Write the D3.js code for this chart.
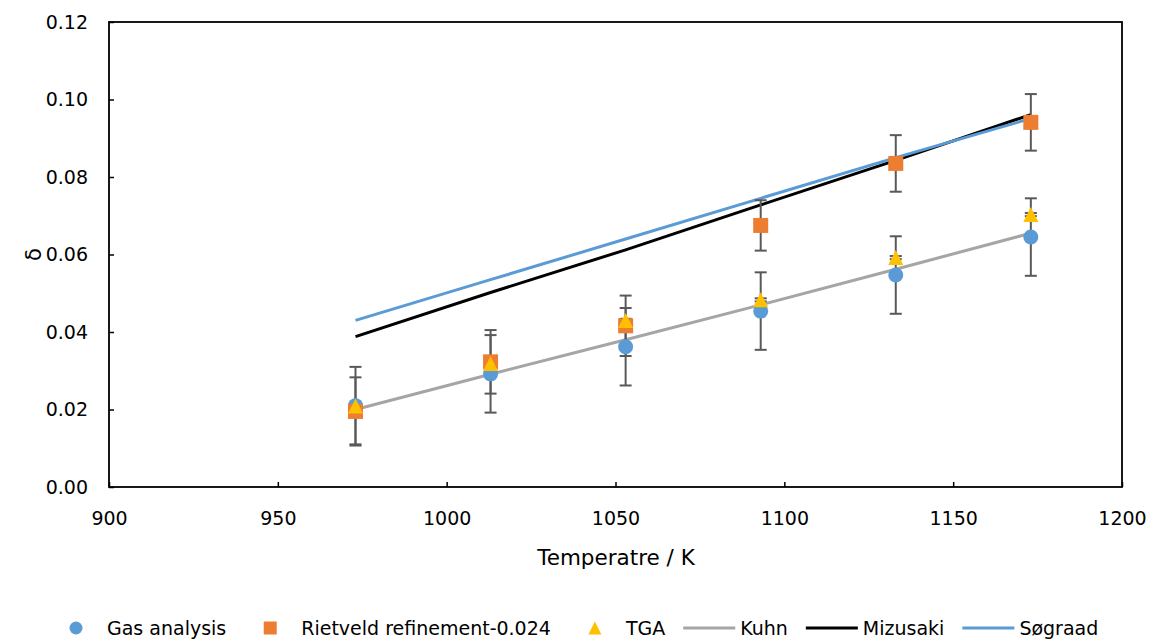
<!DOCTYPE html>
<html>
<head>
<meta charset="utf-8">
<script src="https://cdn.jsdelivr.net/npm/d3@7"></script>
<style>
  html, body { margin: 0; padding: 0; background: #fff; }
  svg text { font-family: "DejaVu Sans", "Open Sans", sans-serif; fill: #000; }
</style>
</head>
<body>
<svg id="chart" width="1149" height="640"></svg>
<script>
// Temperatures (K) shared by all series
const temps = [973, 1013, 1053, 1093, 1133, 1173];

// Measured oxygen non-stoichiometry δ with error bars
const gasAnalysis    = [0.0210, 0.0292, 0.0362, 0.0454, 0.0547, 0.0645];
const gasErr         = [0.0100, 0.0100, 0.0100, 0.0100, 0.0100, 0.0100];
const rietveld       = [0.0195, 0.0323, 0.0416, 0.0675, 0.0835, 0.0941];
const rietveldErr    = [0.0088, 0.0082, 0.0078, 0.0065, 0.0073, 0.0073];
const tga            = [0.0209, 0.0319, 0.0430, 0.0483, 0.0592, 0.0703];
const tgaErr         = [0.0004, 0.0004, 0.0004, 0.0004, 0.0004, 0.0004];

// Literature curves
const kuhn     = [0.0200, 0.0291, 0.0380, 0.0470, 0.0562, 0.0655];
const mizusaki = [0.0388, 0.0502, 0.0612, 0.0728, 0.0843, 0.0961];
const sogaard  = [0.0430, 0.0535, 0.0640, 0.0745, 0.0850, 0.0951];

const xTicks = [900, 950, 1000, 1050, 1100, 1150, 1200];
const yTicks = [0.00, 0.02, 0.04, 0.06, 0.08, 0.10, 0.12];

const svg = d3.select("#chart");
const m = { left: 109, right: 1122, top: 22, bottom: 487 };

const x = d3.scaleLinear().domain([900, 1200]).range([m.left, m.right]);
const y = d3.scaleLinear().domain([0, 0.12]).range([m.bottom, m.top]);

// Axes with inward ticks
const xAxis = d3.axisBottom(x).tickValues(xTicks).tickSizeInner(-5).tickSizeOuter(0)
  .tickPadding(25).tickFormat(d3.format("d"));
const yAxis = d3.axisLeft(y).tickValues(yTicks).tickSizeInner(-5).tickSizeOuter(0)
  .tickPadding(21).tickFormat(d3.format(".2f"));

const gx = svg.append("g").attr("transform", `translate(0,${m.bottom})`).call(xAxis);
const gy = svg.append("g").attr("transform", `translate(${m.left},0)`).call(yAxis);
[gx, gy].forEach(g => {
  g.select(".domain").remove();
  g.selectAll(".tick line").attr("stroke", "#000").attr("stroke-width", 1.5);
  g.selectAll(".tick text").style("font-size", "19px").attr("fill", "#000")
    .style("font-family", "\"DejaVu Sans\", sans-serif");
});

// Plot frame
svg.append("rect")
  .attr("x", m.left).attr("y", m.top)
  .attr("width", m.right - m.left).attr("height", m.bottom - m.top)
  .attr("fill", "none").attr("stroke", "#000").attr("stroke-width", 1.8);

// Axis titles
svg.append("text")
  .attr("x", (m.left + m.right) / 2 + 0.5).attr("y", 565)
  .attr("text-anchor", "middle").style("font-size", "21.5px")
  .text("Temperatre / K");
svg.append("text")
  .attr("transform", `translate(41,${(m.top + m.bottom) / 2}) rotate(-90)`)
  .attr("text-anchor", "middle").style("font-size", "21px")
  .text("δ");

// Model lines
const line = d3.line().x((d, i) => x(temps[i])).y(d => y(d));
const lineSeries = [
  { name: "Kuhn", values: kuhn, color: "#A5A5A5" },
  { name: "Mizusaki", values: mizusaki, color: "#000000" },
  { name: "Søgraad", values: sogaard, color: "#5B9BD5" }
];
lineSeries.forEach(s => {
  svg.append("path").datum(s.values)
    .attr("d", line).attr("fill", "none")
    .attr("stroke", s.color).attr("stroke-width", 3)
    .attr("stroke-linecap", "butt");
});

// Experimental series with error bars
const pointSeries = [
  { name: "Gas analysis", values: gasAnalysis, err: gasErr, color: "#5B9BD5", shape: "circle" },
  { name: "Rietveld refinement-0.024", values: rietveld, err: rietveldErr, color: "#ED7D31", shape: "square" },
  { name: "TGA", values: tga, err: tgaErr, color: "#FFC000", shape: "triangle" }
];

const capHalf = 6;
const errG = svg.append("g").attr("stroke", "#595959").attr("stroke-width", 2);
pointSeries.forEach(s => {
  s.values.forEach((v, i) => {
    const cx = x(temps[i]);
    const y1 = y(v + s.err[i]), y0 = y(v - s.err[i]);
    errG.append("line").attr("x1", cx).attr("x2", cx).attr("y1", y1).attr("y2", y0);
    errG.append("line").attr("x1", cx - capHalf).attr("x2", cx + capHalf).attr("y1", y1).attr("y2", y1);
    errG.append("line").attr("x1", cx - capHalf).attr("x2", cx + capHalf).attr("y1", y0).attr("y2", y0);
  });
});

function trianglePath(cx, cy, s) {
  return `M${cx},${cy - s / 2}L${cx + s / 2},${cy + s / 2}L${cx - s / 2},${cy + s / 2}Z`;
}
function drawMarker(g, shape, cx, cy, color, s) {
  if (shape === "circle") {
    g.append("circle").attr("cx", cx).attr("cy", cy).attr("r", s / 2).attr("fill", color);
  } else if (shape === "square") {
    g.append("rect").attr("x", cx - s / 2).attr("y", cy - s / 2)
      .attr("width", s).attr("height", s).attr("fill", color);
  } else {
    g.append("path").attr("d", trianglePath(cx, cy, s)).attr("fill", color);
  }
}

pointSeries.forEach(s => {
  const g = svg.append("g");
  s.values.forEach((v, i) => drawMarker(g, s.shape, x(temps[i]), y(v), s.color, 15));
});

// Legend: entries flow left to right; each entry is a 52px symbol slot followed by its label
const ly = 628;
const slotW = 52, labelGap = 5, entryGap = 18;
const leg = svg.append("g");
const legendItems = [
  { kind: "marker", shape: "circle", color: "#5B9BD5", t: "Gas analysis" },
  { kind: "marker", shape: "square", color: "#ED7D31", t: "Rietveld refinement-0.024" },
  { kind: "marker", shape: "triangle", color: "#FFC000", t: "TGA" },
  { kind: "line", color: "#A5A5A5", t: "Kuhn" },
  { kind: "line", color: "#000000", t: "Mizusaki" },
  { kind: "line", color: "#5B9BD5", t: "Søgraad" }
];
let sx = 50;
legendItems.forEach(d => {
  const c = sx + slotW / 2;
  if (d.kind === "marker") {
    drawMarker(leg, d.shape, c, ly, d.color, 13);
  } else {
    leg.append("line").attr("x1", sx).attr("x2", sx + slotW).attr("y1", ly).attr("y2", ly)
      .attr("stroke", d.color).attr("stroke-width", 3);
  }
  const txt = leg.append("text").attr("x", sx + slotW + labelGap).attr("y", ly + 7)
    .style("font-size", "19px").text(d.t);
  sx = sx + slotW + labelGap + txt.node().getComputedTextLength() + entryGap;
});
</script>
</body>
</html>
